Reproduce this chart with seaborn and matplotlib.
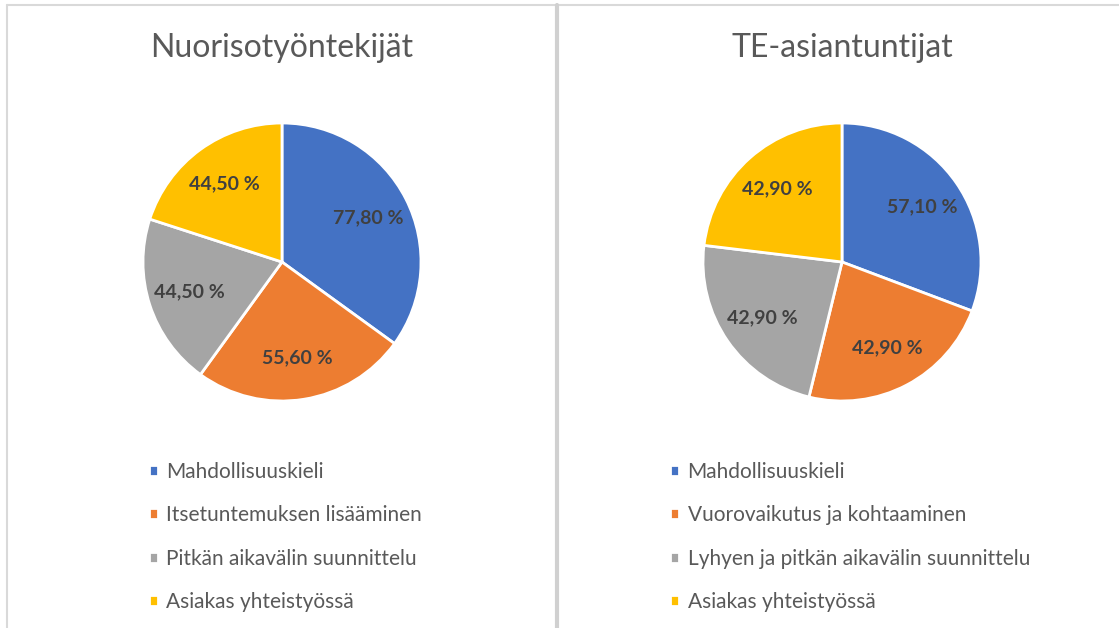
import matplotlib
matplotlib.use("Agg")
import matplotlib.pyplot as plt
from matplotlib.lines import Line2D
import seaborn as sns

# data
titles = ["Nuorisotyöntekijät", "TE-asiantuntijat"]
labels_left = ["Mahdollisuuskieli", "Itsetuntemuksen lisääminen",
               "Pitkän aikavälin suunnittelu", "Asiakas yhteistyössä"]
labels_right = ["Mahdollisuuskieli", "Vuorovaikutus ja kohtaaminen",
                "Lyhyen ja pitkän aikavälin suunnittelu", "Asiakas yhteistyössä"]
values_left = [77.8, 55.6, 44.5, 44.5]
values_right = [57.1, 42.9, 42.9, 42.9]

sns.set_theme(style="white")
plt.rcParams['font.family'] = ['Lato', 'DejaVu Sans']
colors = sns.color_palette(["#4472C4", "#ED7D31", "#A5A5A5", "#FFC000"])

W, H = 1119, 628
fig = plt.figure(figsize=(W / 100, H / 100), dpi=100)
fig.patch.set_facecolor("white")


def fx(px):
    return px / W


def fy(py):
    return 1 - py / H


def fmt_pct(vals):
    total = sum(vals)

    def f(p):
        v = p * total / 100
        return "{:.2f} %".format(v).replace(".", ",")
    return f


R = 139
panels = [(282, 149, titles[0], values_left, labels_left),
          (842, 670, titles[1], values_right, labels_right)]
for cx, leg_x, title, vals, labs in panels:
    side = 2.5 * R
    ax = fig.add_axes([fx(cx - side / 2), fy(262 + side / 2), side / W, side / H])
    wedges, texts, autotexts = ax.pie(
        vals, colors=colors, startangle=90, counterclock=False,
        autopct=fmt_pct(vals), pctdistance=0.70,
        wedgeprops={'edgecolor': 'white', 'linewidth': 2},
        textprops={'color': '#404040', 'fontsize': 14, 'fontweight': 'bold'})
    ax.set_aspect('equal')
    fig.text(fx(cx), fy(57), title, ha='center', va='baseline',
             fontsize=23, color='#595959')
    fig.legend(wedges, labs, loc='upper left',
               bbox_to_anchor=(fx(leg_x), fy(462)),
               frameon=False, fontsize=15, labelcolor='#595959',
               handlelength=0.42, handleheight=0.42, handletextpad=0.42,
               labelspacing=1.12, borderpad=0, borderaxespad=0)

# panel frame lines
line_col = '#D9D9D9'
fig.add_artist(Line2D([fx(7), 1], [fy(5), fy(5)], color=line_col, lw=1.5))
fig.add_artist(Line2D([fx(7), fx(7)], [0, fy(5)], color=line_col, lw=1.5))
fig.add_artist(Line2D([fx(556.5), fx(556.5)], [0, fy(5)], color='#D0D0D0', lw=3))

fig.savefig("out.png", dpi=100, facecolor="white")
